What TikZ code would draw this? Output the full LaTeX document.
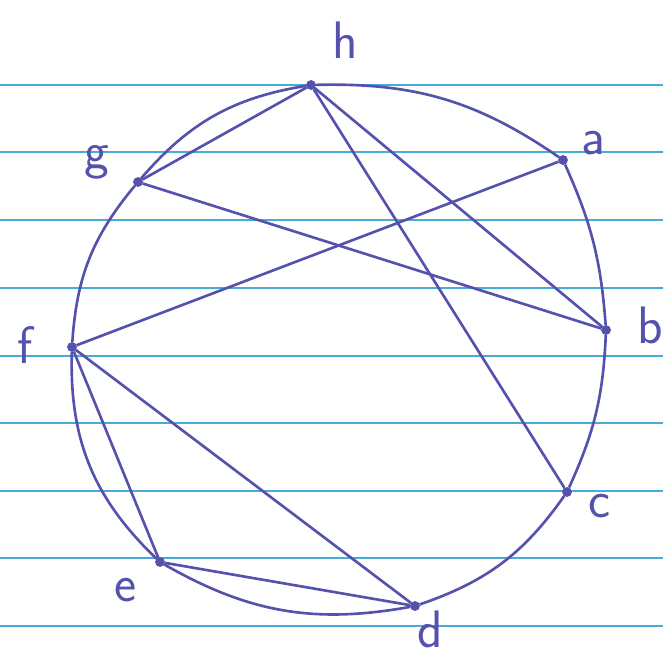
\documentclass[tikz,border=0pt]{standalone}
\usepackage{tikz}
\definecolor{penna}{HTML}{5552AE}
\definecolor{righe}{HTML}{45ADD8}

\begin{document}
\begin{tikzpicture}[
  vertice/.style={circle, fill=penna, draw=penna, inner sep=0pt, minimum size=1.8mm},
  lato/.style={penna, line width=1.5pt},
  etichetta/.style={penna, font=\fontsize{30}{30}\selectfont\sffamily}
]
  \useasboundingbox (0,0) rectangle (13.26,13.18);
  % Paper lines
  \foreach \y in {11.48,10.14,8.78,7.42,6.06,4.72,3.36,2.02,0.66}
    \draw[righe, line width=1.1pt] (0,\y) -- (13.26,\y);
  % Vertices
  \node[vertice] (h) at (6.22,11.48) {};
  \node[vertice] (a) at (11.26,9.98) {};
  \node[vertice] (b) at (12.12,6.58) {};
  \node[vertice] (c) at (11.34,3.34) {};
  \node[vertice] (d) at (8.30,1.06) {};
  \node[vertice] (e) at (3.20,1.94) {};
  \node[vertice] (f) at (1.44,6.24) {};
  \node[vertice] (g) at (2.76,9.54) {};
  % Labels
  \node[etichetta] (lh) at (6.90,12.38) {h};
  \node[etichetta] (la) at (11.86,10.32) {a};
  \node[etichetta] (lb) at (13.00,6.68) {b};
  \node[etichetta] (lc) at (12.00,3.06) {c};
  \node[etichetta] (ld) at (8.60,0.60) {d};
  \node[etichetta] (le) at (2.52,1.38) {e};
  \node[etichetta] (lf) at (0.50,6.28) {f};
  \node[etichetta] (lg) at (1.94,9.94) {g};
  % Outer cycle
  \draw[lato] (h) to[bend left=18] (a);
  \draw[lato] (a) to[bend left=10] (b);
  \draw[lato] (b) to[bend left=11] (c);
  \draw[lato] (c) to[bend left=18] (d);
  \draw[lato] (d) to[bend left=20] (e);
  \draw[lato] (e) to[bend left=24] (f);
  \draw[lato] (f) to[bend left=18] (g);
  \draw[lato] (g) to[bend left=20] (h);
  % Chords
  \draw[lato] (h) -- (g);
  \draw[lato] (h) -- (b);
  \draw[lato] (h) -- (c);
  \draw[lato] (g) -- (b);
  \draw[lato] (a) -- (f);
  \draw[lato] (f) -- (d);
  \draw[lato] (f) -- (e);
  \draw[lato] (e) -- (d);
\end{tikzpicture}
\end{document}
